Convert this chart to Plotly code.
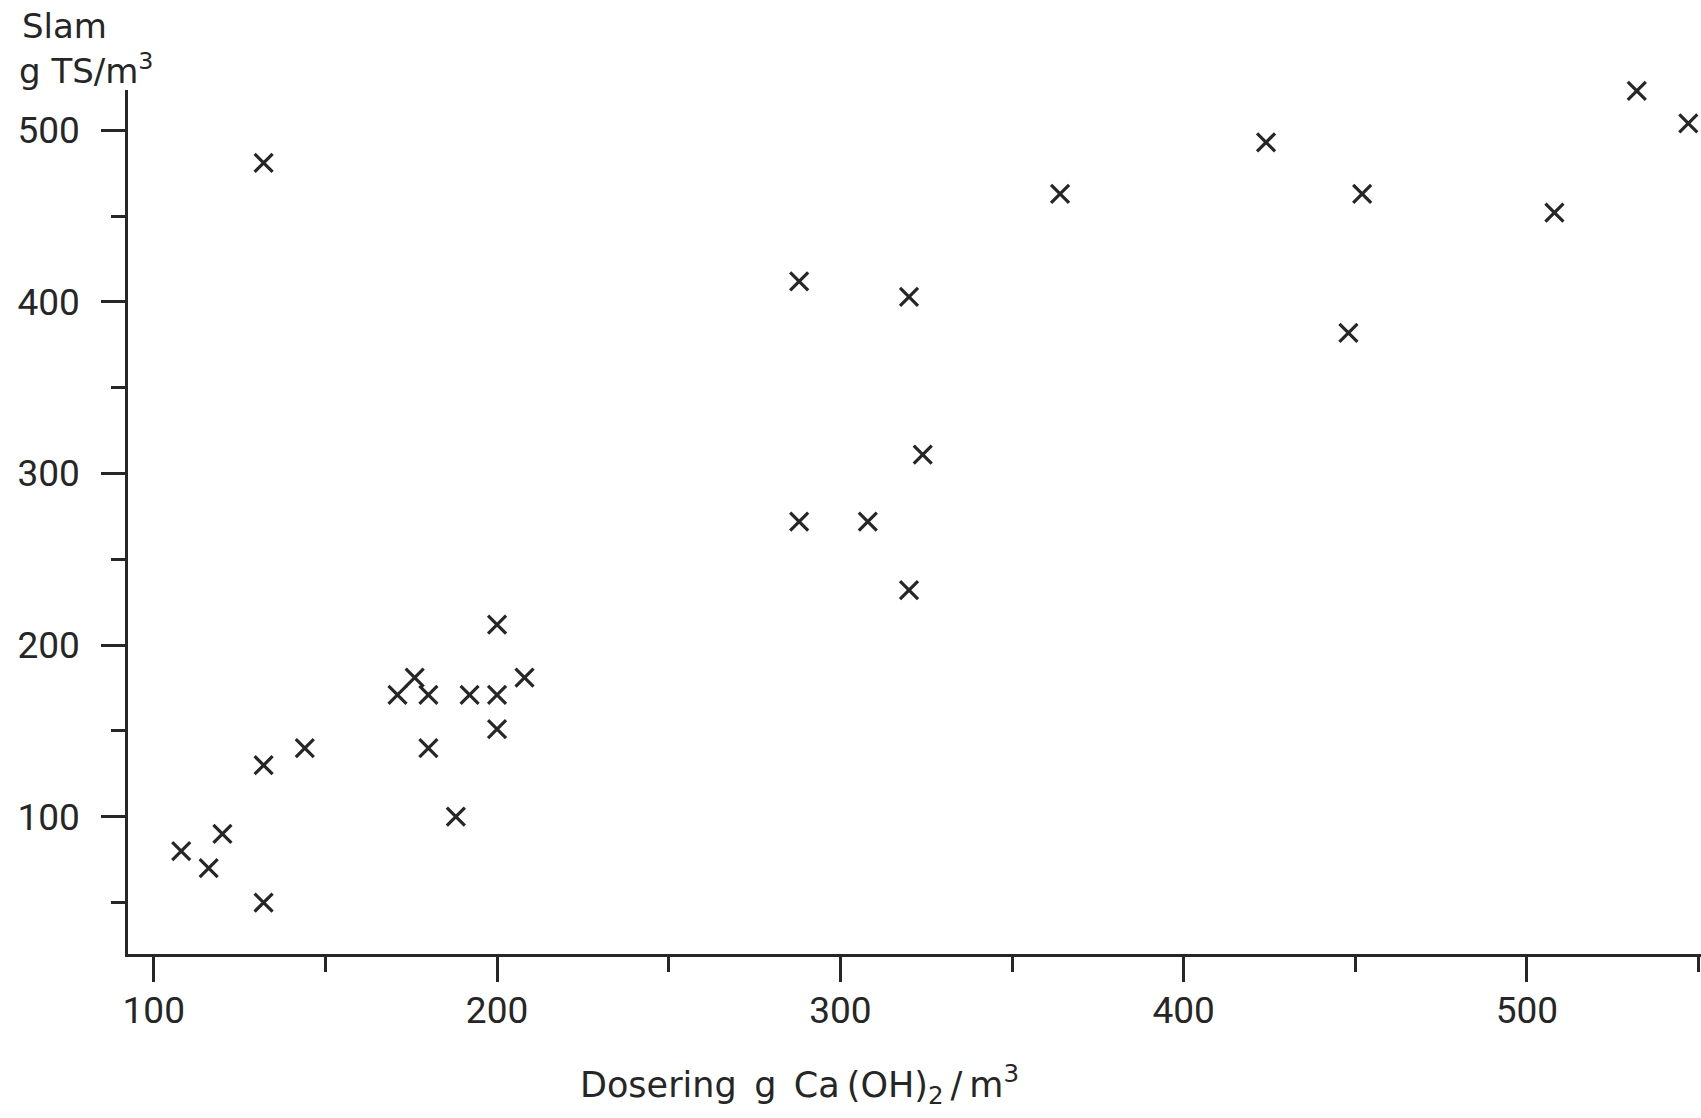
import plotly.graph_objects as go

# Data
dosering = [108, 116, 120, 132, 132, 132, 144, 171, 176, 180, 180, 188, 192, 200, 200,
            200, 208, 288, 288, 308, 320, 320, 324, 364, 424, 452, 448, 508, 532, 547]
slam = [80, 70, 90, 50, 130, 481, 140, 171, 181, 171, 140, 100, 171, 212, 171,
        151, 181, 412, 272, 272, 403, 232, 311, 463, 493, 463, 382, 452, 523, 504]

x_ticks = [100, 200, 300, 400, 500]
x_tick_labels = ["100", "200", "300", "400", "500"]
y_ticks = [100, 200, 300, 400, 500]
y_tick_labels = ["100", "200", "300", "400", "500"]

INK = "#262626"
TICK_FONT = "Roboto, DejaVu Sans, sans-serif"
TITLE_FONT = "DejaVu Sans, Roboto, sans-serif"

fig = go.Figure()
fig.add_trace(go.Scatter(
    x=dosering, y=slam, mode="markers",
    marker=dict(symbol="x-thin", size=18, line=dict(width=3.2, color=INK), color=INK),
    cliponaxis=False, showlegend=False,
))

axis_common = dict(
    showline=True, linecolor=INK, linewidth=2.6,
    ticks="outside", tickcolor=INK, tickwidth=2.6,
    showgrid=False, zeroline=False,
    tickfont=dict(family=TICK_FONT, size=37, color=INK),
)

fig.update_xaxes(
    range=[92.5, 550.7], tickmode="array", tickvals=x_ticks, ticktext=x_tick_labels,
    ticklen=25, ticklabelstandoff=-3,
    minor=dict(dtick=50, tick0=0, ticks="outside", ticklen=15, tickwidth=2.6, tickcolor=INK),
    **axis_common,
)
fig.update_yaxes(
    range=[20.0, 523.5], tickmode="array", tickvals=y_ticks, ticktext=y_tick_labels,
    ticklen=24, ticklabelstandoff=14,
    minor=dict(dtick=50, tick0=0, ticks="outside", ticklen=14, tickwidth=2.6, tickcolor=INK),
    **axis_common,
)

fig.add_annotation(text="Slam", xref="paper", yref="paper", x=0, y=1,
                   xanchor="left", yanchor="middle", xshift=-108, yshift=64,
                   showarrow=False, font=dict(family=TITLE_FONT, size=34, color=INK))
fig.add_annotation(text="g TS/m<sup>3</sup>", xref="paper", yref="paper", x=0, y=1,
                   xanchor="left", yanchor="middle", xshift=-111, yshift=21,
                   showarrow=False, font=dict(family=TITLE_FONT, size=34, color=INK))
fig.add_annotation(text="Dosering\u2002g\u2002Ca\u2009(OH)<sub>2</sub>\u2009/\u2009m<sup>3</sup>",
                   xref="paper", yref="paper", x=0, y=0,
                   xanchor="left", yanchor="middle", xshift=450, yshift=-130,
                   showarrow=False, font=dict(family=TITLE_FONT, size=35, color=INK))

fig.update_layout(
    width=1701, height=1118,
    margin=dict(l=128, r=0, t=90, b=164, pad=0),
    paper_bgcolor="white", plot_bgcolor="white",
)

fig.write_html("out.html", config={"displayModeBar": False},
               post_script="document.body.style.margin='0px';")
